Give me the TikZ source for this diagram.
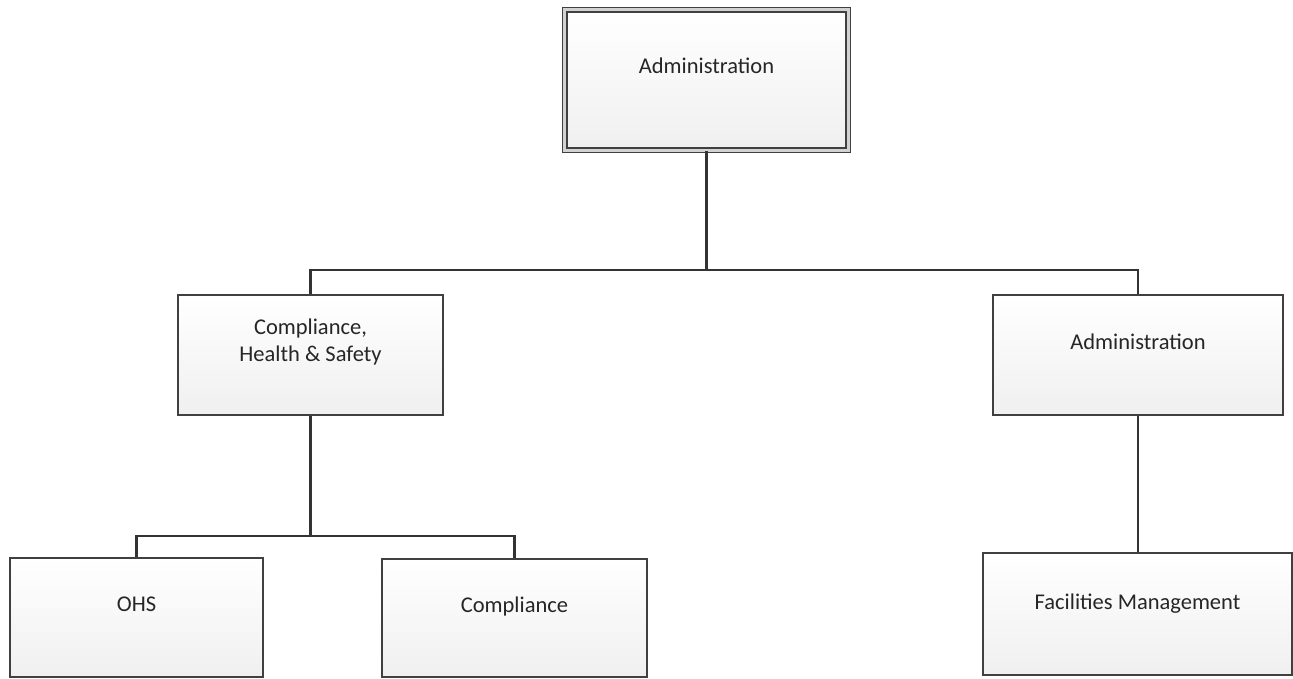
\documentclass[tikz,border=0pt]{standalone}
\usepackage{fontspec}
\setmainfont{Carlito}
\usetikzlibrary{positioning}

\begin{document}
\begin{tikzpicture}[x=1pt, y=-1pt,
  orgbox/.style={draw=black!75, line width=1.8pt, top color=white, bottom color=gray!12, inner sep=0pt},
  orgtext/.style={text=black!85, font=\fontsize{22.5}{26.5}\selectfont, align=center, inner sep=0pt},
  link/.style={draw=black!80, line width=2.4pt}]
\useasboundingbox (0,0) rectangle (1293,678);
\node[orgbox, double=gray!35, double distance=3pt, line width=1.4pt, minimum width=283.6pt, minimum height=140.6pt] (top) at (706.5,80) {};
\node[orgbox, minimum width=265pt, minimum height=120pt] (chs) at (310.5,355) {};
\node[orgbox, minimum width=290pt, minimum height=120pt] (adm) at (1138,355) {};
\node[orgbox, minimum width=253pt, minimum height=119pt] (ohs) at (136.5,617.5) {};
\node[orgbox, minimum width=265pt, minimum height=118pt] (cpl) at (514.5,618) {};
\node[orgbox, minimum width=309pt, minimum height=122pt] (fac) at (1137.5,614) {};
% texts
\node[orgtext, anchor=base] (top-t) at ([yshift=7pt]top.center) {Administration};
\node[orgtext] (chs-t) at (310.5,342) {Compliance,\\Health \& Safety};
\node[orgtext, anchor=base] (adm-t) at ([yshift=6pt]adm.center) {Administration};
\node[orgtext, anchor=base] (ohs-t) at ([yshift=6pt]ohs.center) {OHS};
\node[orgtext, anchor=base] (cpl-t) at ([yshift=6pt]cpl.center) {Compliance};
\node[orgtext, anchor=base] (fac-t) at ([yshift=5pt]fac.center) {Facilities Management};
% connectors
\draw[link] (top.south) -- ++(0,119) -| (chs.north);
\draw[link] (top.south) -- ++(0,119) -| (adm.north);
\draw[link] (chs.south) -- ++(0,120) -| (ohs.north);
\draw[link] (chs.south) -- ++(0,120) -| (cpl.north);
\draw[link] (adm.south) -- (adm.south |- fac.north);
\end{tikzpicture}
\end{document}
